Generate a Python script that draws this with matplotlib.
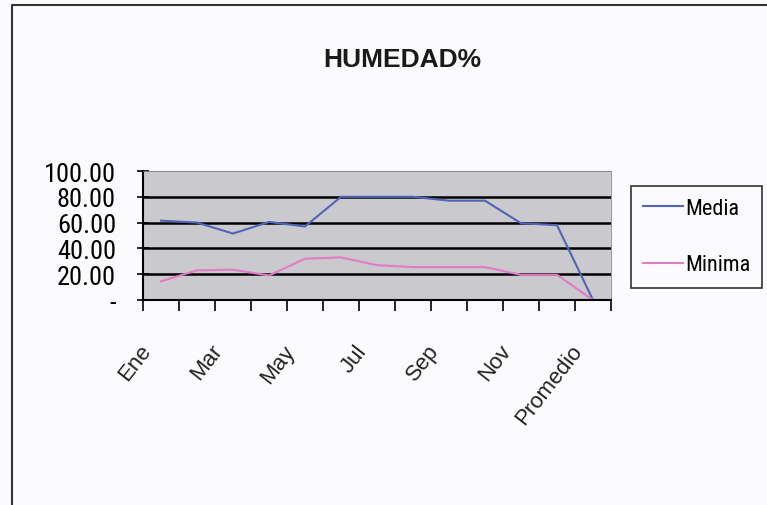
import matplotlib.pyplot as plt
from matplotlib import font_manager
from matplotlib.lines import Line2D
from matplotlib.transforms import ScaledTranslation

categorias = ["Ene", "Feb", "Mar", "Abr", "May", "Jun", "Jul",
              "Ago", "Sep", "Oct", "Nov", "Dic", "Promedio"]
media = [61.5, 60, 51.5, 60.5, 57, 80, 80, 80, 77, 77, 59.5, 58, 0]
minima = [14.5, 23, 23.5, 19, 32, 33, 27, 25.5, 25.5, 25.5, 19.5, 19.5, 0]
y_ticks = [0, 20, 40, 60, 80, 100]
y_labels = ["-", "20.00", "40.00", "60.00", "80.00", "100.00"]

# pick a condensed face if the system has one
installed = {f.name for f in font_manager.fontManager.ttflist}
narrow_name = next((n for n in ["Liberation Sans Narrow", "Arial Narrow",
                                "Roboto Condensed", "Open Sans Condensed"]
                    if n in installed), None)
if narrow_name:
    narrow = {"family": [narrow_name, "DejaVu Sans"]}
    ysize, legsize = 19, 16
else:
    narrow = {"family": ["DejaVu Sans"], "stretch": "condensed"}
    ysize, legsize = 14, 13
main = "Liberation Sans" if "Liberation Sans" in installed else "Arial"
plt.rcParams["font.family"] = [main, "DejaVu Sans"]

fig = plt.figure(figsize=(7.67, 5.06), dpi=100, facecolor="#fbfbfd")
ax = fig.add_axes([143 / 767, 1 - 301 / 506, (611 - 143) / 767, (301 - 172) / 506])
ax.set_facecolor("#c9c9ce")

x = list(range(len(categorias)))
ax.plot(x, media, color="#5065b5", lw=1.5, label="Media")
ax.plot(x, minima, color="#e27bc8", lw=1.5, label="Minima")

ax.set_xlim(-0.5, len(categorias) - 0.5)
ax.set_ylim(0, 100)

# y axis: gridlines at every tick, thin one on top
ax.set_yticks(y_ticks)
ax.set_yticklabels(y_labels, fontsize=ysize, **narrow)
ax.tick_params(axis="y", direction="inout", length=9, width=1.2, pad=15)
ax.yaxis.grid(True, color="black", lw=1.8)
ax.set_axisbelow(True)
ax.get_ygridlines()[-1].set_linewidth(0.6)
ax.get_ygridlines()[-1].set_color("#666666")

# x axis: labels every other category, ticks between categories
ax.set_xticks(x[::2])
ax.set_xticklabels(categorias[::2], rotation=52, ha="right", fontsize=16,
                   color="#222222")
ax.set_xticks([i - 0.5 for i in range(len(categorias) + 1)], minor=True)
ax.tick_params(axis="x", which="major", length=0, pad=29)
ax.tick_params(axis="x", which="minor", direction="out", length=8, width=1.2)
shift = ScaledTranslation(-6 / 100, 0, fig.dpi_scale_trans)
for lbl in ax.get_xticklabels():
    lbl.set_transform(lbl.get_transform() + shift)

for side in ["left", "bottom"]:
    ax.spines[side].set_linewidth(1.5)
for side in ["top", "right"]:
    ax.spines[side].set_color("#888888")
    ax.spines[side].set_linewidth(0.6)

fig.text(402 / 767, 1 - 60 / 506, "HUMEDAD%", ha="center", va="center",
         fontsize=19, fontweight="bold", color="#1a1a1a")

leg = fig.legend(loc="center",
                 bbox_to_anchor=(636 / 767, 1 - 292 / 506, 121 / 767, 109 / 506),
                 borderaxespad=0, frameon=True, fancybox=False,
                 prop=dict(size=legsize, **narrow),
                 handlelength=1.8, handletextpad=0.1, labelspacing=1.6,
                 borderpad=0.55)
leg.get_frame().set_edgecolor("black")
leg.get_frame().set_linewidth(1.2)
leg.get_frame().set_facecolor("#fbfbfd")

# chart area border (top and left visible)
fig.add_artist(Line2D([12 / 767, 12 / 767, 1.0], [0, 1 - 6 / 506, 1 - 6 / 506],
                      transform=fig.transFigure, color="#333333", lw=1.5))

fig.savefig("out.png", dpi=100, facecolor=fig.get_facecolor())
